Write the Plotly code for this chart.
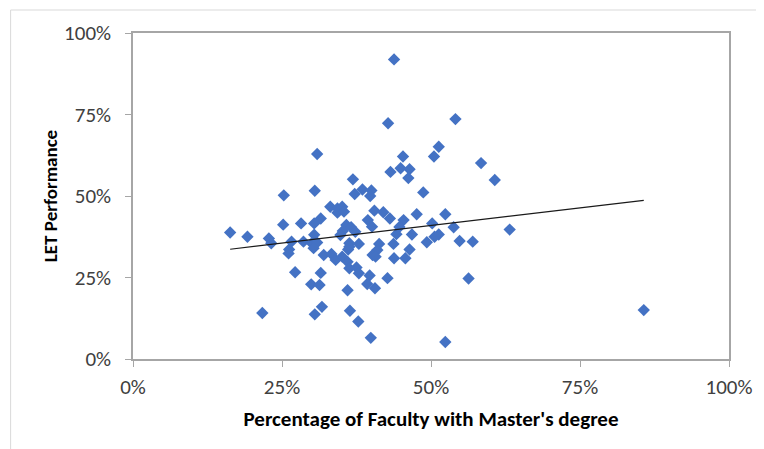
import numpy as np
import plotly.graph_objects as go

# Percentage of faculty with Master's degree (%)
faculty_masters = [
    43.8, 42.8, 54.1, 30.9, 51.3, 50.5, 45.3, 43.2, 44.9, 46.4,
    46.2, 36.9, 38.5, 40.0, 37.2, 39.8, 48.7, 30.5, 25.3, 58.4,
    60.7, 52.4, 50.2, 53.8, 51.3, 50.6, 49.3, 54.8, 57.0, 63.2,
    56.3, 85.7, 52.4, 33.1, 34.3, 35.1, 34.3, 35.4, 40.5, 42.0,
    43.1, 47.6, 16.3, 19.2, 22.8, 23.2, 25.2, 28.2, 26.6, 26.2,
    26.1, 28.6, 30.4, 31.5, 30.4, 30.0, 30.9, 30.3, 35.8, 36.6,
    35.2, 37.3, 39.4, 40.1, 45.4, 44.7, 44.2, 46.8, 34.8, 36.3,
    37.9, 36.1, 41.3, 41.0, 40.2, 40.7, 43.7, 46.4, 45.7, 43.8,
    32.0, 33.3, 34.0, 35.1, 36.0, 36.3, 37.5, 37.9, 39.7, 39.3,
    40.6, 42.7, 27.2, 31.5, 29.9, 31.3, 36.0, 21.7, 30.5, 31.7,
    36.4, 37.8, 39.9, 36.3,
]
# LET performance (%)
let_performance = [
    91.9, 72.3, 73.6, 62.9, 65.1, 62.1, 62.1, 57.4, 58.5, 58.2,
    55.5, 55.1, 52.0, 51.7, 50.6, 50.0, 51.1, 51.6, 50.2, 60.1,
    54.9, 44.4, 41.6, 40.4, 38.2, 37.5, 35.8, 36.2, 36.0, 39.7,
    24.7, 15.0, 5.2, 46.7, 46.2, 46.7, 44.9, 45.2, 45.5, 45.0,
    43.1, 44.4, 38.8, 37.5, 37.0, 35.5, 41.2, 41.6, 36.0, 33.6,
    32.4, 36.0, 41.6, 43.1, 38.1, 35.5, 35.7, 34.0, 41.1, 40.4,
    39.3, 39.0, 42.6, 40.6, 42.6, 40.5, 38.3, 38.2, 38.0, 35.5,
    35.3, 33.6, 35.3, 33.4, 31.9, 31.4, 35.3, 33.6, 30.9, 30.9,
    31.9, 32.2, 30.4, 31.4, 29.8, 27.8, 28.1, 26.3, 25.6, 23.0,
    21.7, 24.8, 26.6, 26.4, 22.9, 22.7, 21.1, 14.1, 13.7, 16.0,
    14.8, 11.5, 6.5, 34.4,
]

tick_vals = [0, 0.25, 0.5, 0.75, 1.0]
tick_text = ["0%", "25%", "50%", "75%", "100%"]

x = np.array(faculty_masters) / 100.0
y = np.array(let_performance) / 100.0

slope, intercept = np.polyfit(x, y, 1)
trend_x = np.array([x.min(), x.max()])
trend_y = slope * trend_x + intercept

FONT = "Carlito, Calibri, 'Liberation Sans Narrow', 'Liberation Sans', Arial, sans-serif"

fig = go.Figure()
fig.add_trace(go.Scatter(
    x=x, y=y, mode="markers",
    marker=dict(symbol="diamond", size=9.5, color="#4472C4", line=dict(width=0)),
    showlegend=False,
))
fig.add_trace(go.Scatter(
    x=trend_x, y=trend_y, mode="lines",
    line=dict(color="#1a1a1a", width=1.2),
    showlegend=False,
))

axis_common = dict(
    range=[0, 1], tickvals=tick_vals, ticktext=tick_text,
    showgrid=False, zeroline=False,
    showline=True, linecolor="#a6a6a6", linewidth=1.5, mirror=True,
    ticks="outside", ticklen=6, tickcolor="#a6a6a6", tickwidth=1,
    tickfont=dict(family=FONT, size=21, color="#404040"),
)

# page body has an 8px default margin, so the figure is 8px smaller
W, H = 756, 441
ML, MT = 125, 25
PW, PH = 599, 326

fig.update_layout(
    width=W, height=H,
    margin=dict(l=ML, r=W - ML - PW, t=MT, b=H - MT - PH),
    paper_bgcolor="white", plot_bgcolor="white",
    xaxis=dict(**axis_common, ticklabelstandoff=2,
               title=dict(text="<b>Percentage of Faculty with Master's degree</b>",
                          font=dict(family=FONT, size=21, color="#000000"),
                          standoff=12)),
    yaxis=dict(**axis_common, ticklabelstandoff=10,
               title=dict(text="<b>LET Performance</b>",
                          font=dict(family=FONT, size=19, color="#000000"),
                          standoff=1)),
    shapes=[
        dict(type="line", xref="paper", yref="paper",
             x0=-123 / PW, x1=1.2, y0=1 + 23 / PH, y1=1 + 23 / PH,
             line=dict(color="#d9d9d9", width=1)),
        dict(type="line", xref="paper", yref="paper",
             x0=-123 / PW, x1=-123 / PW, y0=1 + 23 / PH, y1=-0.5,
             line=dict(color="#d9d9d9", width=1)),
    ],
)

fig.write_html("out.html")
